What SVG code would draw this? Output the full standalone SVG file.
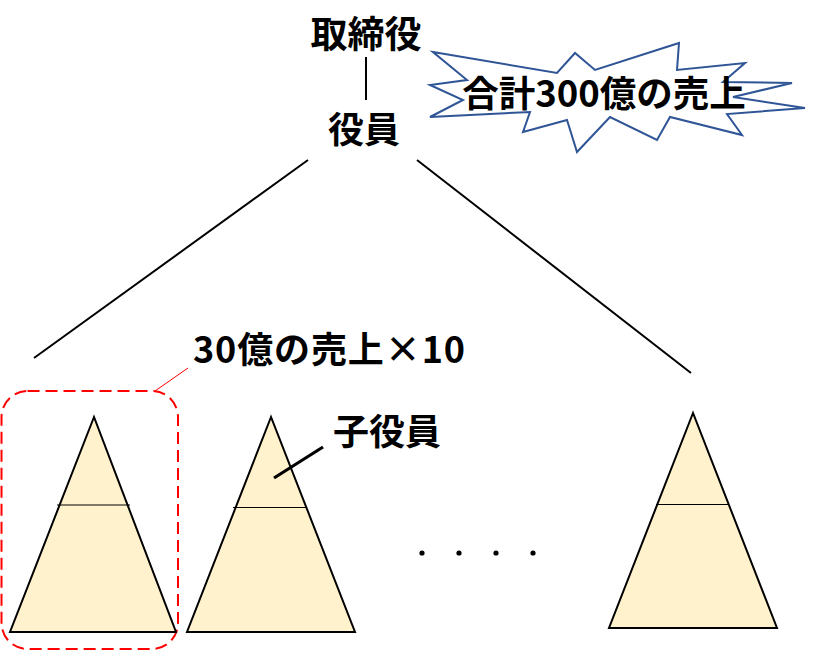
<svg xmlns="http://www.w3.org/2000/svg" width="830" height="652" viewBox="0 0 830 652">
<style>
text{font-family:"Noto Sans CJK JP","Noto Sans",sans-serif;font-weight:bold;fill:#000;}
.tri{fill:#FFF2CC;stroke:#000;stroke-width:2;}
.mid{stroke:#000;stroke-width:1.2;}
.ln{stroke:#000;stroke-width:2;fill:none;}
.lead{stroke:#000;stroke-width:3.2;fill:none;}
</style>
<rect width="830" height="652" fill="#fff"/>
<g id="torishimariyaku"><text x="366" y="48" font-size="37" text-anchor="middle">取締役</text></g>
<g id="yakuin"><text x="364" y="143" font-size="36" text-anchor="middle">役員</text></g>
<g id="burst">
<polygon points="433,52 557,73 575,53 595,70 679,43 677,70 745,63 723,82 792,83 733,97 805,108 727,114 742,135 670,117 657,140 610,117 577,152 567,120 523,132 530,112 430,117 463,100 430,85 467,80" fill="#fff" stroke="#2F5597" stroke-width="2" stroke-linejoin="miter"/>
<text x="604" y="107" font-size="36.5" text-anchor="middle">合計300億の売上</text>
</g>
<g id="label30"><text x="193" y="363" font-size="36" textLength="272" lengthAdjust="spacing">30億の売上×10</text></g>
<g id="group-box"><rect x="1.5" y="391" width="176.5" height="258" rx="26" ry="26" fill="none" stroke="#ff0000" stroke-width="2" stroke-dasharray="12,6"/></g>
<g id="tri1">
<polygon class="tri" points="94,417 10,632 176,632"/>
<line class="mid" x1="57" y1="505" x2="130" y2="505"/>
</g>
<g id="tri2">
<polygon class="tri" points="271,417 187,632 355,632"/>
<line class="mid" x1="233" y1="507.5" x2="306" y2="507.5"/>
</g>
<g id="tri3">
<polygon class="tri" points="693,413 609,628 777,628"/>
<line class="mid" x1="656" y1="504.5" x2="729" y2="504.5"/>
</g>
<g id="kogyakuin"><text x="333" y="445" font-size="36">子役員</text></g>
<g id="dots" fill="#000">
<circle cx="422" cy="553" r="2.6"/>
<circle cx="459" cy="553" r="2.6"/>
<circle cx="496" cy="553" r="2.6"/>
<circle cx="533" cy="553" r="2.6"/>
</g>
<g id="connectors">
<line class="ln" x1="366" y1="57" x2="366" y2="100"/>
<line class="ln" x1="308" y1="160" x2="34" y2="358"/>
<line class="ln" x1="417" y1="160" x2="691" y2="373"/>
<line stroke="#ff0000" stroke-width="1" x1="155" y1="391" x2="188" y2="368"/>
<line class="lead" x1="274" y1="478" x2="323" y2="447"/>
</g>
</svg>
